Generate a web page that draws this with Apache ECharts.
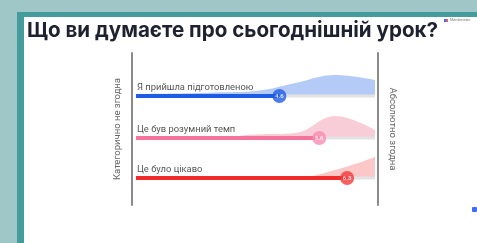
<!DOCTYPE html>
<html style="height: 100%">
<head>
    <meta charset="utf-8">
</head>
<body style="height: 100%; margin: 0">
<div id="container" style="width: 477px; height: 243px"></div>
<script src="https://cdn.jsdelivr.net/npm/echarts@6/dist/echarts.min.js"></script>
<script type="text/javascript">
    // scale 1..7, one row per statement
    var statements = ['Я прийшла підготовленою', 'Це був розумний темп', 'Це було цікаво'];
    var means = [4.6, 5.6, 6.3];
    var scaleValues = [1, 2, 3, 4, 5, 6, 7];
    // answer distribution per row (relative height)
    var dist1 = [2, 2.5, 3.5, 5, 13, 21, 16];
    var dist2 = [0, 0, 0.5, 3.5, 5, 22, 8];
    var dist3 = [0, 0, 0, 0, 0, 8, 21];
    var minLabel = 'Категорично не згодна';
    var maxLabel = 'Абсолютно згодна';
    var titleText = 'Що ви думаєте про сьогоднішній урок?';

    var barColors = ['#1f5ce6', '#f4749c', '#f12b2b'];
    var dotColors = ['#1f5ce6', '#f78cb0', '#f23a3a'];
    var areaColors = ['#b5cbf7', '#f9cdd7', '#fbc7c7'];
    var dists = [dist1, dist2, dist3];
    var baselines = [96, 138, 178];

    var dom = document.getElementById("container");
    var myChart = echarts.init(dom);

    var grids = [], xAxes = [], yAxes = [], series = [], texts = [];

    // frame grid carrying the two end axes
    grids.push({left: 132, right: 99, top: 53, bottom: 38});
    xAxes.push({gridIndex: 0, type: 'value', min: 1, max: 7, show: false});
    var sideAxis = {
        gridIndex: 0, type: 'value', min: 0, max: 1,
        axisLine: {show: true, lineStyle: {color: '#8a8a8a', width: 2}},
        axisTick: {show: false}, axisLabel: {show: false}, splitLine: {show: false},
        nameLocation: 'middle', nameGap: 9,
        nameTextStyle: {fontSize: 9.5, color: '#666', fontFamily: 'Roboto'}
    };
    yAxes.push(Object.assign({}, sideAxis, {position: 'left', name: minLabel, nameRotate: 90}));
    yAxes.push(Object.assign({}, sideAxis, {position: 'right', name: maxLabel, nameRotate: -90}));

    for (var i = 0; i < statements.length; i++) {
        var g = i + 1;
        grids.push({left: 136, right: 102, top: baselines[i] - 24, height: 24});
        xAxes.push({gridIndex: g, type: 'value', min: 1, max: 7, show: false});
        yAxes.push({gridIndex: g, type: 'value', min: 0, max: 24, show: false});
        var xi = i + 1, yi = i + 2;
        series.push({
            type: 'line', xAxisIndex: xi, yAxisIndex: yi, smooth: 0.4, symbol: 'none',
            data: scaleValues.map(function (v, k) { return [v, dists[i][k]]; }),
            lineStyle: {width: 0}, areaStyle: {color: areaColors[i], opacity: 1},
            silent: true, z: 1
        });
        series.push({
            type: 'line', xAxisIndex: xi, yAxisIndex: yi, symbol: 'none', clip: false,
            data: [[means[i], 0], [7, 0]],
            lineStyle: {width: 3, color: '#e2e2e2'}, z: 2
        });
        series.push({
            type: 'line', xAxisIndex: xi, yAxisIndex: yi, symbol: 'none', clip: false,
            data: [[1, 0], [means[i], 0]],
            lineStyle: {width: 4, color: barColors[i]}, z: 3
        });
        series.push({
            type: 'scatter', xAxisIndex: xi, yAxisIndex: yi, clip: false,
            symbolSize: 14, data: [[means[i], 0]],
            itemStyle: {color: dotColors[i]},
            label: {show: true, position: 'inside', formatter: String(means[i]),
                color: '#fff', fontSize: 6, fontWeight: 'bold', fontFamily: 'Roboto'},
            z: 4
        });
        texts.push({
            type: 'text', left: 137, top: baselines[i] - 13,
            style: {text: statements[i], fill: '#555', fontSize: 9.4, fontFamily: 'Roboto'},
            z: 10
        });
    }

    var option = {
        backgroundColor: '#a0c7c8',
        animation: false,
        grid: grids,
        xAxis: xAxes,
        yAxis: yAxes,
        series: series,
        graphic: [
            {type: 'rect', left: 17, top: 12, shape: {width: 470, height: 240}, style: {fill: '#449c9d'}, z: -2},
            {type: 'rect', left: 24, top: 17, shape: {width: 460, height: 236}, style: {fill: '#ffffff'}, z: -1},
            {type: 'text', left: 27, top: 20,
                style: {text: titleText, fill: '#1e2130', fontSize: 20.6, fontWeight: 'bold', fontFamily: 'Inter'}},
            {type: 'rect', left: 444, top: 19, shape: {width: 3, height: 3}, style: {fill: '#3c6ef0'}},
            {type: 'rect', left: 446, top: 19, shape: {width: 2, height: 3}, style: {fill: '#f05a6a'}},
            {type: 'text', left: 450, top: 18,
                style: {text: 'Mentimeter', fill: '#777', fontSize: 4, fontFamily: 'Roboto'}},
            {type: 'rect', left: 472, top: 207, shape: {width: 5, height: 5, r: 1}, style: {fill: '#3c6ef0'}}
        ].concat(texts)
    };
    myChart.setOption(option);
</script>
</body>
</html>
